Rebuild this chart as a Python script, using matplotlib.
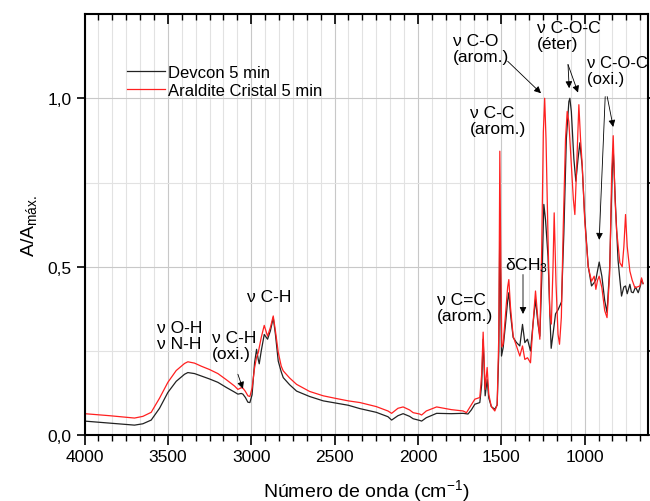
import matplotlib
matplotlib.use('Agg')
import matplotlib.pyplot as plt
from matplotlib.ticker import MultipleLocator, FixedLocator, FuncFormatter

plt.rcParams['font.family'] = ['Liberation Sans', 'DejaVu Sans']
plt.rcParams['mathtext.default'] = 'regular'

# Devcon 5 min (wavenumber cm-1, A/Amax)
devcon_wn = [4000, 3850, 3700, 3650, 3600, 3550, 3500, 3450, 3400, 3380, 3340, 3300,
             3250, 3200, 3150, 3100, 3080, 3060, 3050, 3035, 3020, 3008, 2995, 2980,
             2968, 2958, 2952, 2940, 2922, 2902, 2885, 2868, 2855, 2838, 2820, 2808,
             2770, 2728, 2650, 2568, 2500, 2418, 2348, 2250, 2180, 2158, 2120, 2089,
             2050, 2029, 1990, 1978, 1950, 1888, 1800, 1729, 1700, 1680, 1659, 1629,
             1618, 1609, 1600, 1597, 1585, 1575, 1560, 1539, 1525, 1515, 1509, 1503,
             1499, 1489, 1475, 1462, 1455, 1445, 1429, 1409, 1389, 1373, 1359, 1343,
             1325, 1310, 1295, 1280, 1269, 1255, 1245, 1235, 1220, 1209, 1201, 1190,
             1175, 1159, 1139, 1125, 1110, 1095, 1089, 1080, 1065, 1053, 1040, 1029,
             1015, 1000, 979, 959, 943, 933, 913, 897, 880, 866, 850, 835,
             829, 815, 800, 789, 779, 765, 755, 745, 729, 720, 709, 695,
             679, 665, 659, 650]
devcon_a = [0.042, 0.036, 0.030, 0.034, 0.045, 0.080, 0.127, 0.160, 0.181, 0.186, 0.183, 0.176,
            0.167, 0.157, 0.142, 0.128, 0.122, 0.124, 0.122, 0.112, 0.098, 0.097, 0.120, 0.215,
            0.255, 0.225, 0.212, 0.250, 0.299, 0.285, 0.310, 0.349, 0.300, 0.220, 0.188, 0.171,
            0.150, 0.131, 0.115, 0.102, 0.096, 0.089, 0.079, 0.068, 0.055, 0.045, 0.058, 0.064,
            0.056, 0.049, 0.044, 0.042, 0.052, 0.065, 0.064, 0.065, 0.063, 0.075, 0.092, 0.097,
            0.150, 0.285, 0.160, 0.117, 0.165, 0.110, 0.085, 0.077, 0.090, 0.250, 0.630, 0.400,
            0.235, 0.260, 0.330, 0.400, 0.423, 0.360, 0.290, 0.275, 0.265, 0.329, 0.275, 0.285,
            0.250, 0.330, 0.403, 0.330, 0.294, 0.500, 0.685, 0.640, 0.530, 0.360, 0.258, 0.300,
            0.360, 0.373, 0.396, 0.600, 0.880, 0.990, 1.000, 0.960, 0.820, 0.754, 0.820, 0.868,
            0.798, 0.650, 0.502, 0.443, 0.453, 0.462, 0.514, 0.472, 0.400, 0.364, 0.500, 0.780,
            0.850, 0.680, 0.520, 0.462, 0.413, 0.440, 0.443, 0.420, 0.448, 0.425, 0.423, 0.440,
            0.423, 0.445, 0.462, 0.450]

# Araldite Cristal 5 min
araldite_wn = [4000, 3850, 3700, 3650, 3600, 3550, 3500, 3450, 3400, 3380, 3340, 3300,
               3250, 3200, 3150, 3100, 3080, 3060, 3050, 3035, 3020, 3008, 2995, 2980,
               2968, 2958, 2940, 2922, 2902, 2885, 2868, 2855, 2838, 2820, 2808, 2770,
               2728, 2650, 2568, 2500, 2418, 2348, 2250, 2180, 2158, 2120, 2089, 2050,
               2029, 1990, 1978, 1950, 1888, 1800, 1729, 1709, 1680, 1659, 1629, 1618,
               1609, 1600, 1597, 1585, 1575, 1560, 1539, 1525, 1515, 1509, 1503, 1497,
               1489, 1475, 1462, 1455, 1445, 1429, 1409, 1389, 1373, 1359, 1343, 1325,
               1310, 1295, 1280, 1269, 1258, 1248, 1240, 1232, 1219, 1209, 1200, 1190,
               1183, 1172, 1160, 1151, 1140, 1129, 1115, 1105, 1095, 1080, 1068, 1059,
               1048, 1035, 1025, 1015, 1000, 979, 959, 943, 933, 923, 913, 897,
               880, 866, 850, 838, 829, 818, 809, 789, 775, 765, 755, 745,
               729, 715, 699, 685, 669, 659, 650]
araldite_a = [0.064, 0.058, 0.051, 0.056, 0.068, 0.110, 0.157, 0.192, 0.213, 0.218, 0.214, 0.205,
              0.195, 0.183, 0.165, 0.146, 0.136, 0.141, 0.140, 0.130, 0.117, 0.115, 0.140, 0.200,
              0.232, 0.245, 0.290, 0.326, 0.294, 0.320, 0.354, 0.310, 0.246, 0.205, 0.191, 0.170,
              0.151, 0.130, 0.117, 0.110, 0.102, 0.097, 0.085, 0.072, 0.065, 0.080, 0.084, 0.075,
              0.067, 0.063, 0.060, 0.072, 0.084, 0.076, 0.072, 0.067, 0.090, 0.107, 0.112, 0.180,
              0.306, 0.180, 0.136, 0.201, 0.120, 0.085, 0.072, 0.090, 0.300, 0.843, 0.500, 0.262,
              0.270, 0.360, 0.440, 0.462, 0.380, 0.294, 0.265, 0.235, 0.265, 0.225, 0.230, 0.215,
              0.330, 0.428, 0.340, 0.285, 0.550, 0.900, 1.000, 0.880, 0.561, 0.360, 0.330, 0.500,
              0.660, 0.450, 0.300, 0.270, 0.350, 0.610, 0.880, 0.961, 0.930, 0.800, 0.700, 0.655,
              0.800, 0.981, 0.880, 0.803, 0.640, 0.500, 0.457, 0.472, 0.433, 0.460, 0.472, 0.438,
              0.370, 0.349, 0.480, 0.780, 0.889, 0.700, 0.610, 0.512, 0.500, 0.560, 0.655, 0.560,
              0.487, 0.460, 0.438, 0.440, 0.443, 0.467, 0.450]

fig = plt.figure(figsize=(6.5, 5.02), dpi=100)
ax = fig.add_axes([0.130, 0.131, 0.867, 0.839])

ax.plot(devcon_wn, devcon_a, color='#222222', lw=0.9, label='Devcon 5 min')
ax.plot(araldite_wn, araldite_a, color='#ff2020', lw=0.9, label='Araldite Cristal 5 min')

ax.set_xlim(4000, 620)
ax.set_ylim(0, 1.25)

# Origin-style axis: 5 minor ticks between majors
ax.xaxis.set_major_locator(MultipleLocator(500))
ax.xaxis.set_minor_locator(FixedLocator([4000 - k * 500 / 6 for k in range(41) if k % 6]))
ax.yaxis.set_major_locator(FixedLocator([0, 0.5, 1.0]))
ax.yaxis.set_minor_locator(FixedLocator([0.25, 0.75]))
ax.yaxis.set_major_formatter(FuncFormatter(lambda v, p: ('%.1f' % v).replace('.', ',')))

ax.grid(True, which='major', color='#c8c8c8', lw=0.8)
ax.grid(True, which='minor', color='#e2e2e2', lw=0.8)
ax.set_axisbelow(True)

for s in ax.spines.values():
    s.set_linewidth(1.5)

ax.tick_params(axis='x', which='major', direction='out', length=7, width=1.2,
               top=True, labelsize=12.5, pad=3)
ax.tick_params(axis='x', which='minor', direction='out', length=4, width=1.0, top=True)
for t in ax.xaxis.get_ticklines(minor=False)[1::2] + ax.xaxis.get_ticklines(minor=True)[1::2]:
    t.set_marker(3)  # top ticks point down into the plot
ax.tick_params(axis='y', which='major', direction='out', length=6, width=1.2,
               right=True, labelsize=12.5)
ax.tick_params(axis='y', which='minor', left=False, right=True, length=6, width=1.2)

ax.set_xlabel('Número de onda (cm$^{-1}$)', fontsize=14, labelpad=9)
ax.set_ylabel('A/A$_{máx.}$', fontsize=14, labelpad=6)

ax.legend(loc='upper left', bbox_to_anchor=(0.075, 0.88), frameon=False,
          fontsize=12, handlelength=2.3, handletextpad=0.2, borderpad=0,
          borderaxespad=0, labelspacing=0.2)

fs = 12.5
ax.text(1790, 1.195, 'ν C-O\n(arom.)', fontsize=fs, va='top', linespacing=1.1)
ax.text(1286, 1.232, 'ν C-O-C\n(éter)', fontsize=fs, va='top', linespacing=1.1)
ax.text(985, 1.128, 'ν C-O-C\n(oxi.)', fontsize=12, va='top', linespacing=1.1)
ax.text(1688, 0.98, 'ν C-C\n(arom.)', fontsize=fs, va='top', linespacing=1.1)
ax.text(1478, 0.507, 'δCH$_3$', fontsize=fs, va='center')
ax.text(1886, 0.426, 'ν C=C\n(arom.)', fontsize=fs, va='top', linespacing=1.1)
ax.text(3026, 0.412, 'ν C-H', fontsize=fs, va='center')
ax.text(3566, 0.343, 'ν O-H\nν N-H', fontsize=fs, va='top', linespacing=1.1)
ax.text(3236, 0.313, 'ν C-H\n(oxi.)', fontsize=fs, va='top', linespacing=1.1)

arrow = dict(arrowstyle='-|>', color='k', lw=0.6, mutation_scale=10, shrinkA=0, shrinkB=0)
arrows = [((1462, 1.11), (1262, 1.015)),
          ((1100, 1.10), (1093, 1.03)),
          ((1100, 1.10), (1040, 1.017)),
          ((877, 1.005), (913, 0.58)),
          ((865, 1.005), (829, 0.915)),
          ((1370, 0.477), (1370, 0.36)),
          ((3080, 0.181), (3050, 0.138))]
for start, end in arrows:
    ax.annotate('', xy=end, xytext=start, arrowprops=arrow)

fig.savefig('out.png', dpi=100)
